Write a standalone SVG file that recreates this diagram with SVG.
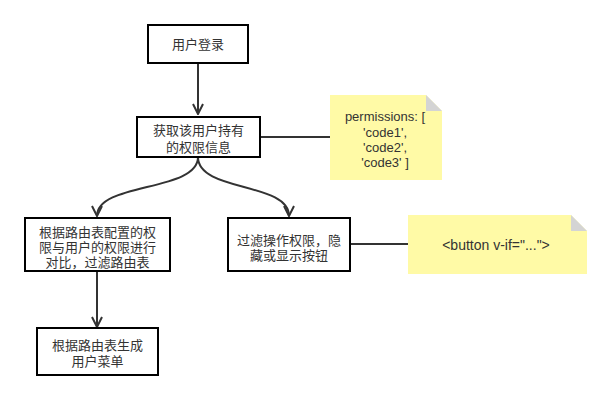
<svg xmlns="http://www.w3.org/2000/svg" width="612" height="401" viewBox="0 0 612 401">
<style>
.box{fill:#fff;stroke:#000;stroke-width:2}
.t{font-family:"Liberation Sans","Noto Sans CJK SC",sans-serif;font-size:13px;fill:#333;text-anchor:middle}
.n{font-family:"Liberation Sans","Noto Sans CJK SC",sans-serif;font-size:13px;fill:#333;text-anchor:middle}
.c{fill:none;stroke:#333;stroke-width:2}
.note{fill:#FFFAA6}
.fold{fill:#D4D4D4}
</style>
<defs>
<marker id="arr" viewBox="0 0 12 12" refX="11" refY="6" markerWidth="12" markerHeight="12" markerUnits="userSpaceOnUse" orient="auto">
<path d="M1,1 L11,6 L1,11" fill="none" stroke="#333" stroke-width="2"/>
</marker>
</defs>
<rect width="612" height="401" fill="#fff"/>
<g id="connectors">
<path class="c" d="M198,63 L198,114" marker-end="url(#arr)"/>
<path class="c" d="M198,157 C198,192 97,182 97,216" marker-end="url(#arr)"/>
<path class="c" d="M198,157 C198,192 289,182 289,216" marker-end="url(#arr)"/>
<path class="c" d="M97,271 L97,327" marker-end="url(#arr)"/>
<path class="c" d="M260,137 L330,137"/>
<path class="c" d="M350,244 L408,244"/>
</g>
<g id="login">
<rect class="box" x="148" y="25" width="100" height="38"/>
<text class="t" x="198" y="49">用户登录</text>
</g>
<g id="getperm">
<rect class="box" x="137" y="117" width="123" height="40"/>
<text class="t" x="198.5" y="135">获取该用户持有</text>
<text class="t" x="198.5" y="152">的权限信息</text>
</g>
<g id="note1">
<path class="note" d="M330,95 L426,95 L442,111 L442,180 L330,180 Z"/>
<path class="fold" d="M426,95 L442,111 L426,111 Z"/>
<text class="n" x="385" y="121">permissions: [</text>
<text class="n" x="385" y="137">'code1',</text>
<text class="n" x="385" y="152">'code2',</text>
<text class="n" x="385" y="167">'code3' ]</text>
</g>
<g id="filterroutes">
<rect class="box" x="25" y="218" width="145" height="53"/>
<text class="t" x="97.5" y="237">根据路由表配置的权</text>
<text class="t" x="97.5" y="252">限与用户的权限进行</text>
<text class="t" x="97.5" y="267">对比，过滤路由表</text>
</g>
<g id="filterbuttons">
<rect class="box" x="228" y="218" width="122" height="53"/>
<text class="t" x="289" y="245">过滤操作权限，隐</text>
<text class="t" x="289" y="260">藏或显示按钮</text>
</g>
<g id="note2">
<path class="note" d="M408,215 L571,215 L587,231 L587,274 L408,274 Z"/>
<path class="fold" d="M571,215 L587,231 L571,231 Z"/>
<text class="n" x="496" y="250" style="font-size:14px">&lt;button v-if="..."&gt;</text>
</g>
<g id="menu">
<rect class="box" x="37" y="328" width="121" height="47"/>
<text class="t" x="97.5" y="350">根据路由表生成</text>
<text class="t" x="97.5" y="366">用户菜单</text>
</g>
</svg>
